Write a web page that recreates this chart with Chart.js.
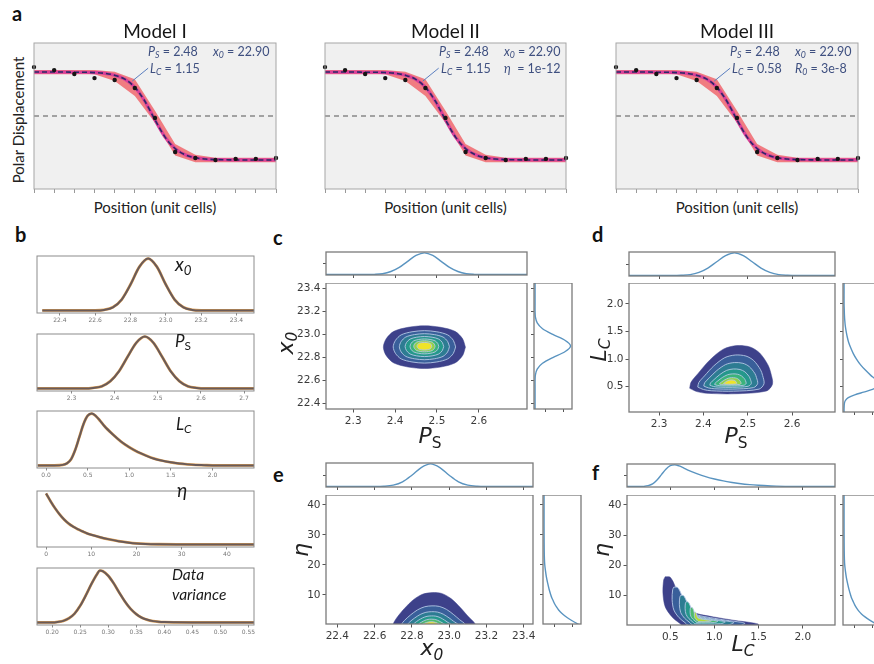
<!DOCTYPE html>
<html>
<head>
<meta charset="utf-8">
<title>Polar displacement fits and posteriors</title>
<script src="https://cdn.jsdelivr.net/npm/chart.js@4.4.1/dist/chart.umd.min.js"></script>
<style>
  html, body { margin: 0; padding: 0; background: #fff; }
  body { position: relative; width: 874px; height: 664px; overflow: hidden; }
  canvas { position: absolute; }
  .t { position: absolute; white-space: nowrap; line-height: 1; }
  .s { font-size: 0.7em; position: relative; top: 0.28em; }
</style>
</head>
<body>
<script>
// ---- panel a: polar displacement across the wall ----
const positions = [17, 18, 19, 20, 21, 22, 23, 24, 25, 26, 27, 28, 29];
const polarPoints = [2.76, 2.59, 2.37, 2.14, 2.03, 1.58, -0.11, -2.03, -2.37, -2.48, -2.42, -2.42, -2.37];
const bandUpper = [2.60, 2.60, 2.60, 2.60, 2.50, 2.07, 0.29, -1.58, -2.18, -2.36, -2.36, -2.36, -2.36];
const bandLower = [2.36, 2.36, 2.36, 2.36, 1.97, 1.13, -0.38, -2.23, -2.61, -2.61, -2.61, -2.61, -2.61];
const fitX = [17, 17.5, 18, 18.5, 19, 19.5, 20, 20.5, 21, 21.5, 22, 22.5, 23, 23.5, 24, 24.5, 25, 25.5, 26, 26.5, 27, 27.5, 28, 28.5, 29];
const fitY = [2.48, 2.48, 2.48, 2.48, 2.47, 2.47, 2.45, 2.41, 2.30, 2.08, 1.62, 0.83, -0.22, -1.19, -1.84, -2.19, -2.36, -2.43, -2.46, -2.47, -2.48, -2.48, -2.48, -2.48, -2.48];
const midLevel = 0;
const leaderLine = [[22.66, 2.70], [21.87, 1.97]];
const modelTitles = ['Model I', 'Model II', 'Model III'];
const modelPs = ['2.48', '2.48', '2.48'];
const modelX0 = ['22.90', '22.90', '22.90'];
const modelLc = ['1.15', '1.15', '0.58'];
const modelExtra = ['', '<i>η</i>&nbsp; = 1e-12', '<i>R</i><span class="s"><i>0</i></span> = 3e-8'];

// ---- panel b: marginal posteriors ----
const x0Grid = [22.30, 22.35, 22.40, 22.45, 22.50, 22.55, 22.60, 22.65, 22.70, 22.75, 22.80, 22.85, 22.90, 22.95, 23.00, 23.05, 23.10, 23.15, 23.20, 23.25, 23.30, 23.35, 23.40, 23.45, 23.50];
const x0Density = [0, 0, 0, 0, 0, 0, 0.00, 0.01, 0.06, 0.21, 0.50, 0.84, 1.00, 0.84, 0.50, 0.21, 0.06, 0.01, 0, 0, 0, 0, 0, 0, 0];
const psGrid = [2.21, 2.23, 2.25, 2.27, 2.29, 2.31, 2.33, 2.35, 2.37, 2.39, 2.41, 2.43, 2.45, 2.47, 2.49, 2.51, 2.53, 2.55, 2.57, 2.59, 2.61, 2.63, 2.65, 2.67, 2.69, 2.71, 2.73];
const psDensity = [0, 0, 0, 0, 0, 0, 0.00, 0.01, 0.04, 0.14, 0.33, 0.61, 0.88, 1.00, 0.88, 0.61, 0.33, 0.14, 0.04, 0.01, 0.00, 0, 0, 0, 0, 0, 0];
const lcGrid = [-0.1, 0, 0.1, 0.2, 0.25, 0.3, 0.35, 0.4, 0.45, 0.5, 0.55, 0.6, 0.65, 0.7, 0.8, 0.9, 1.0, 1.1, 1.2, 1.3, 1.4, 1.5, 1.6, 1.7, 1.8, 1.9, 2.0, 2.2, 2.5];
const lcDensity = [0, 0, 0, 0.01, 0.04, 0.12, 0.30, 0.55, 0.80, 0.96, 1.00, 0.95, 0.86, 0.76, 0.60, 0.46, 0.35, 0.26, 0.19, 0.13, 0.09, 0.06, 0.035, 0.02, 0.01, 0.005, 0, 0, 0];
const etaGrid = [0, 1, 2, 3, 4, 5, 6, 7, 8, 9, 10, 12, 14, 16, 18, 20, 22, 25, 30, 35, 40, 46];
const etaDensity = [1.0, 0.85, 0.71, 0.59, 0.49, 0.41, 0.35, 0.30, 0.26, 0.22, 0.19, 0.14, 0.10, 0.065, 0.04, 0.02, 0.01, 0.004, 0.001, 0, 0, 0];
const varGrid = [0.17, 0.20, 0.21, 0.22, 0.23, 0.24, 0.25, 0.26, 0.27, 0.28, 0.285, 0.29, 0.30, 0.31, 0.32, 0.33, 0.34, 0.35, 0.36, 0.37, 0.38, 0.39, 0.40, 0.42, 0.45, 0.50, 0.56];
const varDensity = [0, 0, 0.01, 0.03, 0.08, 0.17, 0.32, 0.52, 0.74, 0.93, 1.00, 0.99, 0.90, 0.75, 0.57, 0.40, 0.26, 0.16, 0.09, 0.05, 0.025, 0.012, 0.006, 0.002, 0, 0, 0];

// tick labels
const x0Ticks = [22.4, 22.6, 22.8, 23.0, 23.2, 23.4];
const psTicks = [2.3, 2.4, 2.5, 2.6];
const psTicksB = [2.3, 2.4, 2.5, 2.6, 2.7];
const lcTicks = [0.5, 1.0, 1.5, 2.0];
const lcTicksB = [0, 0.5, 1.0, 1.5, 2.0];
const etaTicks = [10, 20, 30, 40];
const etaTicksB = [0, 10, 20, 30, 40];
const varTicks = [0.20, 0.25, 0.30, 0.35, 0.40, 0.45, 0.50, 0.55];

// ---- panels c-f: joint posteriors (outer contour, density peak, level sizes) ----
const cOutlineX = [2.568, 2.561, 2.543, 2.509, 2.470, 2.431, 2.397, 2.379, 2.372, 2.379, 2.397, 2.431, 2.470, 2.509, 2.543, 2.561];
const cOutlineY = [22.890, 22.964, 23.027, 23.062, 23.075, 23.062, 23.027, 22.964, 22.890, 22.816, 22.753, 22.718, 22.705, 22.718, 22.753, 22.816];
const cPeak = [2.47, 22.90];
const cLevels = [1, 0.76, 0.61, 0.47, 0.35, 0.26, 0.18];

const dOutlineX = [2.369, 2.385, 2.407, 2.470, 2.542, 2.556, 2.552, 2.546, 2.527, 2.505, 2.475, 2.445, 2.414, 2.388, 2.372];
const dOutlineY = [0.47, 0.41, 0.38, 0.37, 0.42, 0.55, 0.75, 0.89, 1.11, 1.22, 1.245, 1.18, 0.98, 0.74, 0.58];
const dPeak = [2.46, 0.56];
const dLevelsX = [1, 0.8, 0.65, 0.5, 0.38, 0.26, 0.16];
const dLevelsY = [1, 0.75, 0.55, 0.38, 0.25, 0.15, 0.09];

const eOutlineX = [22.70, 22.70, 22.72, 22.76, 22.81, 22.86, 22.91, 22.96, 23.01, 23.06, 23.10, 23.14, 23.14];
const eOutlineY = [-2, 0.3, 2.5, 5.5, 8.5, 10.3, 10.8, 10.5, 8.8, 5.8, 3.0, 0.3, -2];
const ePeak = [22.90, 0];
const eLevelsX = [1, 0.78, 0.62, 0.47, 0.34, 0.24];
const eLevelsY = [1, 0.59, 0.41, 0.28, 0.18, 0.10];

const fOutlineX = [0.443, 0.50, 0.556, 0.594, 0.65, 0.80, 0.99, 1.216, 1.44, 1.50, 1.37, 0.69, 0.61, 0.52, 0.443, 0.417, 0.425];
const fOutlineY = [16.3, 16.1, 13.0, 8.6, 5.8, 4.1, 3.0, 1.9, 1.0, 0.47, -1, -1, 0.8, 3.0, 6.3, 10.8, 15.2];
const fPeak = [0.85, 2.0];
const fLevels = [1, 0.76, 0.57, 0.42, 0.29, 0.18];

const viridis7 = ['#3d418a', '#395f9a', '#2d7c92', '#25988b', '#3bb37a', '#91d249', '#efe428'];
const viridisE = ['#3d418a', '#395f9a', '#2d7c92', '#25988b', '#4dbb6d', '#e6e42a'];
const viridisF = ['#3d418a', '#395f9a', '#2d7c92', '#25988b', '#4dbb6d', '#b4dc35'];

// ------------------------------------------------------------------
Chart.defaults.font.family = 'DejaVu Sans';

// box frame (all four spines) and optional plot background
Chart.register({
  id: 'frame',
  defaults: { color: '#777', width: 1, bg: null },
  beforeDraw(chart, args, o) {
    if (!o.bg) return;
    const a = chart.chartArea, ctx = chart.ctx;
    ctx.save();
    ctx.fillStyle = o.bg;
    ctx.fillRect(a.left, a.top, a.right - a.left, a.bottom - a.top);
    ctx.restore();
  },
  afterDraw(chart, args, o) {
    const a = chart.chartArea, ctx = chart.ctx;
    ctx.save();
    ctx.strokeStyle = o.color;
    ctx.lineWidth = o.width;
    ctx.strokeRect(a.left, a.top, a.right - a.left, a.bottom - a.top);
    ctx.restore();
  }
});

function axis(min, max, ticks, o) {
  o = o || {};
  const cfg = {
    type: 'linear', min, max,
    border: { display: false },
    grid: { display: ticks.length > 0, drawOnChartArea: false, drawTicks: true, tickLength: o.tl || 3.5, color: o.tc || '#555' },
    ticks: {
      display: !!o.labels && ticks.length > 0,
      autoSkip: false, maxRotation: 0, minRotation: 0,
      padding: o.pad == null ? 2 : o.pad,
      color: o.color || '#3a3a3a',
      font: { family: 'DejaVu Sans', size: o.size || 10.5 },
      callback: v => Number(v).toFixed(o.dec || 0)
    }
  };
  if (ticks.length) cfg.afterBuildTicks = s => { s.ticks = ticks.map(v => ({ value: v })); };
  return cfg;
}

// box = [left, top, width, height] of the plot area, pad = [left, right, top, bottom] around it
function addChart(box, pad, datasets, xs, ys, frame) {
  const cv = document.createElement('canvas');
  const W = box[2] + pad[0] + pad[1], H = box[3] + pad[2] + pad[3];
  cv.width = W; cv.height = H;
  cv.style.left = (box[0] - pad[0]) + 'px';
  cv.style.top = (box[1] - pad[2]) + 'px';
  cv.style.width = W + 'px';
  cv.style.height = H + 'px';
  document.body.appendChild(cv);
  const zero = s => { s.paddingLeft = 0; s.paddingRight = 0; s.paddingTop = 0; s.paddingBottom = 0; };
  xs.afterFit = s => { s.height = pad[3]; zero(s); };
  ys.afterFit = s => { s.width = pad[0]; zero(s); };
  return new Chart(cv, {
    type: 'line',
    data: { datasets },
    options: {
      responsive: false, animation: false, devicePixelRatio: 1,
      layout: { padding: { left: 0, right: pad[1], top: pad[2], bottom: 0 } },
      plugins: { legend: { display: false }, tooltip: { enabled: false }, frame },
      scales: { x: xs, y: ys }
    }
  });
}

const pts = (xs, ys) => xs.map((x, i) => ({ x, y: ys[i] }));

function contourSets(ox, oy, peak, sx, sy, cols) {
  return cols.map((col, i) => {
    const d = ox.map((x, j) => ({ x: peak[0] + sx[i] * (x - peak[0]), y: peak[1] + sy[i] * (oy[j] - peak[1]) }));
    d.push(d[0]);
    return {
      data: d, fill: 'shape', backgroundColor: col,
      borderColor: i ? 'rgba(180,198,228,0.9)' : col, borderWidth: i ? 1 : 0.5,
      pointRadius: 0, tension: 0.3, order: cols.length - i + 1
    };
  });
}

function densityLine(data, vertical) {
  return { data, borderColor: '#5a94c0', borderWidth: 1.4, pointRadius: 0,
    tension: vertical ? 0.3 : 0, cubicInterpolationMode: vertical ? 'default' : 'monotone' };
}

// ---------------- panel a ----------------
const aBoxes = [[33, 42, 244, 147], [324, 42, 243, 147], [615, 42, 244, 147]];
aBoxes.forEach(box => {
  addChart(box, [3, 3, 3, 5], [
    { data: pts(positions, polarPoints), showLine: false, pointRadius: 2.2, pointBackgroundColor: '#151515', pointBorderWidth: 0, clip: 4, order: 0 },
    { data: pts(fitX, fitY), borderColor: '#2c2966', borderWidth: 1.6, borderDash: [5, 3], pointRadius: 0, cubicInterpolationMode: 'monotone', order: 1 },
    { data: pts(fitX, fitY), borderColor: '#d9409a', borderWidth: 3.2, pointRadius: 0, cubicInterpolationMode: 'monotone', order: 2 },
    { data: leaderLine.map(p => ({ x: p[0], y: p[1] })), borderColor: '#5b7fc0', borderWidth: 1, pointRadius: 0, order: 3 },
    { data: [{ x: positions[0], y: midLevel }, { x: positions[positions.length - 1], y: midLevel }], borderColor: '#555', borderWidth: 1, borderDash: [5, 4], pointRadius: 0, order: 5 },
    { data: pts(positions, bandUpper), borderColor: 'rgba(0,0,0,0)', borderWidth: 0, backgroundColor: 'rgba(240,84,90,0.74)', fill: '+1', pointRadius: 0, order: 4 },
    { data: pts(positions, bandLower), borderColor: 'rgba(0,0,0,0)', borderWidth: 0, fill: false, pointRadius: 0, order: 6 }
  ], axis(17, 29, positions, { tl: 4, tc: '#999' }), axis(-4.12, 4.12, []), { bg: '#f0f0f0', color: '#a6a6a6' });
});

// ---------------- panel b ----------------
const bPanels = [
  { box: [37, 256, 217, 57], g: x0Grid, d: x0Density, r: [22.27, 23.50], t: x0Ticks, dec: 1 },
  { box: [37, 334, 217, 57], g: psGrid, d: psDensity, r: [2.22, 2.723], t: psTicksB, dec: 1 },
  { box: [37, 411, 217, 57], g: lcGrid, d: lcDensity, r: [-0.11, 2.5], t: lcTicksB, dec: 1 },
  { box: [37, 491, 217, 56], g: etaGrid, d: etaDensity, r: [-2, 46], t: etaTicksB, dec: 0 },
  { box: [37, 568, 217, 57], g: varGrid, d: varDensity, r: [0.173, 0.56], t: varTicks, dec: 2 }
];
bPanels.forEach(p => {
  const data = pts(p.g, p.d);
  addChart(p.box, [2, 8, 2, 14], [
    { data, borderColor: '#6a5b59', borderWidth: 2.0, pointRadius: 0, cubicInterpolationMode: 'monotone', order: 0 },
    { data, borderColor: '#dfa055', borderWidth: 2.8, pointRadius: 0, cubicInterpolationMode: 'monotone', order: 1 }
  ], axis(p.r[0], p.r[1], p.t, { labels: true, dec: p.dec, size: 6, color: '#777', tl: 2.5, tc: '#888', pad: 1 }),
     axis(-0.05, 1.05, []), { color: '#8c8c8c' });
});

// ---------------- panels c-f ----------------
const joint = [
  { main: [326, 283, 201, 126], top: [326, 252, 201, 23], side: [534, 283, 38, 126],
    xr: [2.235, 2.715], yr: [22.354, 23.446], xt: psTicks, yt: x0Ticks, xd: 1, yd: 1,
    topG: psGrid, topD: psDensity, sideG: x0Grid, sideD: x0Density,
    sets: contourSets(cOutlineX, cOutlineY, cPeak, cLevels, cLevels, viridis7) },
  { main: [629, 283, 206, 129], top: [629, 252, 206, 24], side: [843, 283, 38, 129],
    xr: [2.232, 2.697], yr: [0.04, 2.38], xt: psTicks, yt: lcTicks, xd: 1, yd: 1,
    topG: psGrid, topD: psDensity, sideG: lcGrid, sideD: lcDensity,
    sets: contourSets(dOutlineX, dOutlineY, dPeak, dLevelsX, dLevelsY, viridis7) },
  { main: [326, 495, 207, 129], top: [326, 463, 207, 24], side: [543, 495, 38, 129],
    xr: [22.339, 23.45], yr: [0.33, 43.3], xt: x0Ticks, yt: etaTicks, xd: 1, yd: 0,
    topG: x0Grid, topD: x0Density, sideG: etaGrid, sideD: etaDensity,
    sets: contourSets(eOutlineX, eOutlineY, ePeak, eLevelsX, eLevelsY, viridisE) },
  { main: [627, 495, 208, 130], top: [627, 464, 208, 23], side: [843, 495, 38, 130],
    xr: [0.01, 2.365], yr: [0.33, 43.3], xt: lcTicks, yt: etaTicks, xd: 1, yd: 0,
    topG: lcGrid, topD: lcDensity, sideG: etaGrid, sideD: etaDensity,
    sets: contourSets(fOutlineX, fOutlineY, fPeak, fLevels, fLevels, viridisF) }
];
const frameJ = { color: '#7a7a7a', width: 1.3 };
joint.forEach(p => {
  addChart(p.main, [42, 2, 0, 24], p.sets,
    axis(p.xr[0], p.xr[1], p.xt, { labels: true, dec: p.xd }),
    axis(p.yr[0], p.yr[1], p.yt, { labels: true, dec: p.yd }), frameJ);
  addChart(p.top, [4, 2, 2, 4], [densityLine(pts(p.topG, p.topD), false)],
    axis(p.xr[0], p.xr[1], p.xt, { tl: 3 }), axis(-0.02, 1.04, [0.5], { tl: 3 }), frameJ);
  addChart(p.side, [4, 2, 0, 4], [densityLine(p.sideG.map((y, i) => ({ x: p.sideD[i], y })), true)],
    axis(-0.03, 1.04, [0.3, 0.8], { tl: 3 }), axis(p.yr[0], p.yr[1], p.yt, { tl: 3 }), frameJ);
});

// ---------------- text ----------------
const K = { 'Lato': 0.887, 'DejaVu Sans': 0.846 };
function txt(html, x, y, size, o) {
  o = o || {};
  const fam = o.fam || 'Lato';
  const d = document.createElement('div');
  d.className = 't';
  d.innerHTML = html;
  d.style.fontFamily = '"' + fam + '", sans-serif';
  d.style.fontSize = size + 'px';
  d.style.color = o.color || '#1a1a1a';
  if (o.bold) d.style.fontWeight = 'bold';
  d.style.left = x + 'px';
  if (o.rot) {
    d.style.top = y + 'px';
    d.style.transform = 'translate(-50%,-50%) rotate(-90deg)';
  } else {
    d.style.top = (y - K[fam] * size) + 'px';
    if (o.center) d.style.transform = 'translateX(-50%)';
  }
  document.body.appendChild(d);
}
const sub = (s, it) => '<span class="s">' + (it ? '<i>' + s + '</i>' : s) + '</span>';

// panel letters
[['a', 12, 21], ['b', 15, 242], ['c', 273, 245], ['d', 592, 242], ['e', 273, 482], ['f', 592, 480]]
  .forEach(l => txt(l[0], l[1], l[2], 20, { bold: true, color: '#111' }));

// panel a text
aBoxes.forEach((b, i) => {
  const cx = b[0] + b[2] / 2, dx = b[0];
  txt(modelTitles[i], cx, 38, 19, { center: true, color: '#151515' });
  txt('Position (unit cells)', cx, 213, 15, { center: true, color: '#222' });
  const ac = '#3f5080';
  txt('<i>P</i>' + sub('S', true) + ' = ' + modelPs[i], dx + 115, 57, 12.5, { color: ac });
  txt('<i>x</i>' + sub('0', true) + ' = ' + modelX0[i], dx + 180, 57, 12.5, { color: ac });
  txt('<i>L</i>' + sub('C', true) + ' = ' + modelLc[i], dx + 117, 74, 12.5, { color: ac });
  if (modelExtra[i]) txt(modelExtra[i], dx + 180, 74, 12.5, { color: ac });
});
txt('Polar Displacement', 18, 120, 15, { rot: true, color: '#222' });

// panel b labels
txt('<i>x</i>' + sub('0', true), 175, 271, 19);
txt('<i>P</i>' + sub('S', false), 175, 347, 17);
txt('<i>L</i>' + sub('C', true), 176, 430, 17);
txt('<i>η</i>', 177, 497, 19);
txt('<i>Data</i>', 172, 581, 15.5);
txt('<i>variance</i>', 172, 601, 15.5);

// panels c-f axis labels
const lab = { fam: 'DejaVu Sans', color: '#222' };
txt('<i>x</i>' + sub('0', true), 286, 343, 22, Object.assign({ rot: true }, lab));
txt('<i>P</i>' + sub('S', false), 430, 444, 22, Object.assign({ center: true }, lab));
txt('<i>L</i>' + sub('C', true), 599, 350, 22, Object.assign({ rot: true }, lab));
txt('<i>P</i>' + sub('S', false), 736, 444, 22, Object.assign({ center: true }, lab));
txt('<i>η</i>', 301, 550, 22, Object.assign({ rot: true }, lab));
txt('<i>x</i>' + sub('0', true), 432, 656, 22, Object.assign({ center: true }, lab));
txt('<i>η</i>', 602, 550, 22, Object.assign({ rot: true }, lab));
txt('<i>L</i>' + sub('C', true), 743, 652, 22, Object.assign({ center: true }, lab));
</script>
</body>
</html>
